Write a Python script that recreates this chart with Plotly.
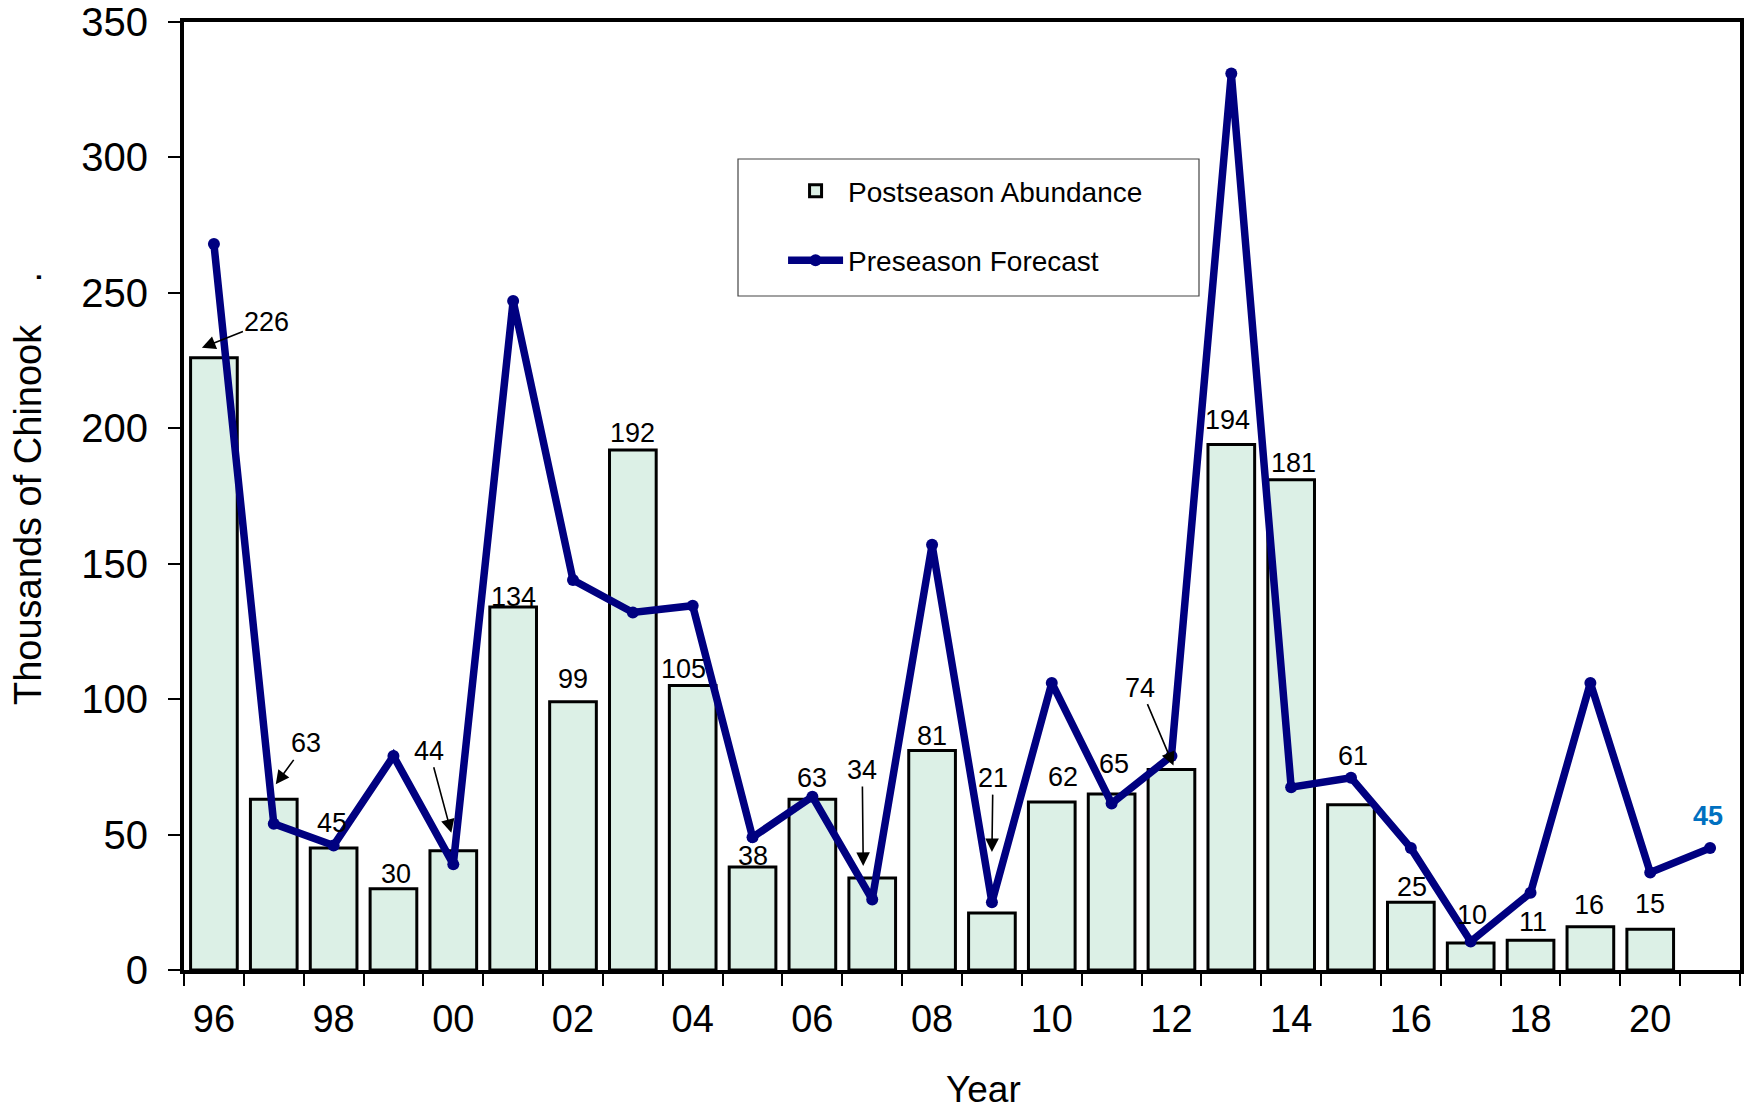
import plotly.graph_objects as go

# ---------------- data ----------------
years = list(range(1996, 2022))
postseason = [226, 63, 45, 30, 44, 134, 99, 192, 105, 38, 63, 34, 81, 21, 62, 65,
              74, 194, 181, 61, 25, 10, 11, 16, 15, None]
preseason = [268, 54, 46, 79, 39, 247, 144, 132, 134.5, 49, 64, 26, 157, 25, 106,
             61.5, 79, 331, 67.5, 71, 45, 10.5, 28.5, 106, 36, 45]
tick_years = list(range(1996, 2021, 2))
tick_text = [str(y)[-2:] for y in tick_years]

# ---------------- label placement (px offsets, not data) ----------------
plain_off = {
    1998: (-2, 25), 1999: (3, 15), 2001: (0, 10), 2002: (0, 23), 2003: (0, 17),
    2004: (-9, 17), 2005: (0, 11), 2006: (0, 21), 2008: (0, 15), 2010: (11, 25),
    2011: (2, 30), 2013: (-4, 25), 2014: (2, 17), 2015: (2, 49), 2016: (1, 15),
    2017: (1, 28), 2018: (2, 18), 2019: (-1, 22), 2020: (0, 25),
}
arrow_off = {
    1996: (-12, 10, 65, -26), 1997: (2, 15, 30, -41), 2000: (-2, 18, -22, -82),
    2007: (-9, 12, -1, -96), 2009: (0, 61, 1, -74), 2012: (2, 4, -33, -78),
}

FONT = "Liberation Sans, Arial, sans-serif"
NAVY = "#000080"
MINT = "#DCF0E6"

fig = go.Figure()
fig.add_trace(go.Bar(
    x=years, y=postseason, name="Postseason Abundance", width=0.78,
    marker=dict(color=MINT, line=dict(color="black", width=3)),
    legendgroup="a",
))
fig.add_trace(go.Scatter(
    x=years, y=preseason, name="Preseason Forecast", mode="lines+markers",
    line=dict(color=NAVY, width=7.5), marker=dict(color=NAVY, size=12),
    legendgroup="b",
))

ann = []
for yr, v in zip(years, postseason):
    if v is None:
        continue
    if yr in arrow_off:
        dx, dy, ax, ay = arrow_off[yr]
        ann.append(dict(x=yr, y=v, xref="x", yref="y", text=str(v), showarrow=True,
                        xshift=dx, yshift=dy, ax=ax, ay=ay, arrowhead=2, arrowsize=1.7,
                        arrowwidth=1.6, arrowcolor="black", standoff=0,
                        font=dict(family=FONT, size=27, color="black")))
    else:
        dx, dy = plain_off.get(yr, (0, 15))
        ann.append(dict(x=yr, y=v, xref="x", yref="y", text=str(v), showarrow=False,
                        xshift=dx, yshift=dy, yanchor="middle",
                        font=dict(family=FONT, size=27, color="black")))
ann.append(dict(x=years[-1], y=preseason[-1], xref="x", yref="y",
                text="<b>%d</b>" % round(preseason[-1]), showarrow=False,
                xshift=-2, yshift=32, yanchor="middle",
                font=dict(family=FONT, size=27, color="#0070C0")))
ann.append(dict(x=0, y=0.5, xref="paper", yref="paper", xanchor="center", yanchor="middle",
                xshift=-156, yshift=7, textangle=-90, showarrow=False,
                text="Thousands of Chinook\u00a0\u00a0\u00a0\u00a0.",
                font=dict(family=FONT, size=38, color="black")))
ann.append(dict(x=0.5, y=0, xref="paper", yref="paper", xanchor="center", yanchor="middle",
                xshift=21, yshift=-119, showarrow=False, text="Year",
                font=dict(family=FONT, size=37, color="black")))

fig.update_layout(
    width=1752, height=1109,
    margin=dict(l=184, r=12, t=22, b=139, autoexpand=False),
    paper_bgcolor="white", plot_bgcolor="white",
    font=dict(family=FONT, color="black"),
    annotations=ann,
    legend=dict(x=0.385, y=0.848, xanchor="left", yanchor="top", itemwidth=55,
                bgcolor="rgba(0,0,0,0)", borderwidth=0, tracegroupgap=30,
                font=dict(family=FONT, size=28, color="black")),
    shapes=[dict(type="rect", xref="paper", yref="paper",
                 x0=(738 - 184) / 1556, x1=(1199 - 184) / 1556,
                 y0=(970 - 296) / 948, y1=(970 - 159) / 948,
                 line=dict(color="#444444", width=1.2), fillcolor="rgba(0,0,0,0)", layer="below")],
)
fig.update_xaxes(
    range=[1995.5, 2021.5], tickmode="array", tickvals=tick_years, ticktext=tick_text,
    ticks="", showgrid=False, zeroline=False, automargin=False,
    showline=True, linecolor="black", linewidth=4, mirror=True,
    tickfont=dict(family=FONT, size=38, color="black"), ticklabelstandoff=12,
    minor=dict(ticks="outside", tick0=1995.5, dtick=1, ticklen=12, tickwidth=1.5,
               tickcolor="black", showgrid=False),
)
fig.update_yaxes(
    range=[0, 350], dtick=50, ticks="outside", ticklen=12, tickwidth=1.5, tickcolor="black",
    showgrid=False, zeroline=False, automargin=False,
    showline=True, linecolor="black", linewidth=4, mirror=True,
    tickfont=dict(family=FONT, size=40, color="black"), ticklabelstandoff=12,
)

fig.write_html("out.html", config={"displayModeBar": False},
               post_script="document.body.style.margin='0';")
